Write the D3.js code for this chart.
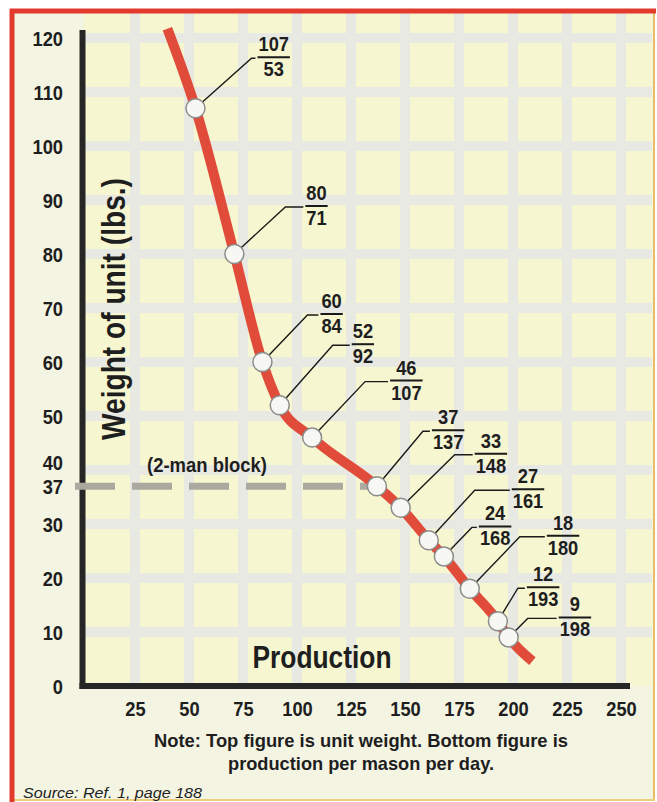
<!DOCTYPE html>
<html>
<head>
<meta charset="utf-8">
<title>Unit weight vs. production</title>
<style>
  body { margin: 0; background: #ffffff; }
  svg text { font-family: "Liberation Sans Narrow", "Arial Narrow", "Liberation Sans", sans-serif; fill: #1e1e1e; }
</style>
</head>
<body>
<script src="https://d3js.org/d3.v7.min.js"></script>
<script>

// unit weight (lbs.) and production per mason per day
var weights    = [107, 80, 60, 52, 46, 37, 33, 27, 24, 18, 12, 9];
var production = [53, 71, 84, 92, 107, 137, 148, 161, 168, 180, 193, 198];

// where the red curve runs past the first and last marked points
var curveStart = [40, 121.7];
var curveEnd   = [209, 4.6];

var xTicks = [25, 50, 75, 100, 125, 150, 175, 200, 225, 250];
var yTicks = [0, 10, 20, 30, 37, 40, 50, 60, 70, 80, 90, 100, 110, 120];
var gridY  = [10, 20, 30, 40, 50, 60, 70, 80, 90, 100, 110, 120];

var blockWeight = 37;
var blockLabel = "(2-man block)";

var yTitle = "Weight of unit (lbs.)";
var xTitle = "Production";
var noteLines = ["Note: Top figure is unit weight. Bottom figure is",
                 "production per mason per day."];
var sourceText = "Source: Ref. 1, page 188";

// leader layout per label: diagonal dx, dy (px) then horizontal run (px)
var leaders = [[56, -50, 4], [51, -47, 18], [45, -47, 11], [53, -60, 17],
               [53, -56, 23], [46, -55, 7], [54, -53, 18], [46, -50, 35],
               [28, -29, 5], [50, -52, 25], [20, -33, 7], [19, -19, 29]];

var W = 657, H = 802;
var squeeze = 0.87;   // the original type is a condensed face

var x = d3.scaleLinear().domain([0, 250]).range([81, 621]);
var y = d3.scaleLinear().domain([0, 120]).range([686, 38]);

var svg = d3.select('body').append('svg')
    .attr('width', W)
    .attr('height', H);

// frame and background
svg.append('rect')
    .attr('x', 12).attr('y', 11)
    .attr('width', 642).attr('height', 789)
    .attr('fill', '#f4f4e3');

svg.append('rect')
    .attr('x', x(0) + 3).attr('y', 13)
    .attr('width', 652 - x(0) - 3)
    .attr('height', y(0) - 13)
    .attr('fill', '#f6f6d0');

var grid = svg.append('g')
    .attr('stroke', '#e8e9e3')
    .attr('stroke-width', 10);

grid.selectAll('.vband')
    .data(xTicks)
    .enter().append('line')
    .attr('x1', function (d) { return x(d); })
    .attr('x2', function (d) { return x(d); })
    .attr('y1', 13)
    .attr('y2', y(0));

grid.selectAll('.hband')
    .data(gridY)
    .enter().append('line')
    .attr('x1', x(0))
    .attr('x2', 652)
    .attr('y1', function (d) { return y(d); })
    .attr('y2', function (d) { return y(d); });

svg.append('line')
    .attr('x1', 654).attr('x2', 654).attr('y1', 11).attr('y2', 800)
    .attr('stroke', '#ebbd63').attr('stroke-width', 2);
svg.append('line')
    .attr('x1', 12).attr('x2', 655).attr('y1', 800).attr('y2', 800)
    .attr('stroke', '#eccf7a').attr('stroke-width', 2);
svg.append('line')
    .attr('x1', 12).attr('x2', 12).attr('y1', 9).attr('y2', H)
    .attr('stroke', '#e23b2e').attr('stroke-width', 5);
svg.append('line')
    .attr('x1', 10).attr('x2', 656).attr('y1', 11).attr('y2', 11)
    .attr('stroke', '#e23b2e').attr('stroke-width', 5);

// axes lines
svg.append('line')
    .attr('x1', x(0) + 1.5).attr('x2', x(0) + 1.5)
    .attr('y1', 30).attr('y2', y(0) + 3)
    .attr('stroke', '#262626').attr('stroke-width', 6);
svg.append('line')
    .attr('x1', x(0) - 1.5).attr('x2', 630)
    .attr('y1', y(0)).attr('y2', y(0))
    .attr('stroke', '#262626').attr('stroke-width', 6);

// tick labels
var yAxis = d3.axisLeft(y).tickValues(yTicks).tickSize(0).tickPadding(0);
var gy = svg.append('g')
    .attr('transform', 'translate(63,0)')
    .call(yAxis);
gy.select('.domain').remove();
gy.selectAll('text')
    .style('font-size', '21px')
    .style('font-weight', 'bold')
    .attr('fill', '#1e1e1e')
    .attr('transform', 'scale(' + squeeze + ',1)')
    .attr('dy', function (d) { return d === 40 ? '-0.02em' : '0.34em'; });

var xAxis = d3.axisBottom(x).tickValues(xTicks).tickSize(0).tickPadding(0);
var gx = svg.append('g')
    .attr('transform', 'translate(0,701)')
    .call(xAxis);
gx.select('.domain').remove();
gx.selectAll('text')
    .style('font-size', '21px')
    .style('font-weight', 'bold')
    .attr('fill', '#1e1e1e')
    .attr('transform', 'scale(' + squeeze + ',1)')
    .attr('dy', '0.72em');

// axis titles
svg.append('text')
    .attr('transform', 'translate(125,' + 309 + ') rotate(-90)')
    .attr('text-anchor', 'middle')
    .attr('textLength', 262)
    .attr('lengthAdjust', 'spacingAndGlyphs')
    .style('font-size', '33px')
    .style('font-weight', 'bold')
    .text(yTitle);

svg.append('text')
    .attr('x', 322).attr('y', 668)
    .attr('text-anchor', 'middle')
    .attr('textLength', 139)
    .attr('lengthAdjust', 'spacingAndGlyphs')
    .style('font-size', '32px')
    .style('font-weight', 'bold')
    .text(xTitle);

// 2-man block reference
svg.append('line')
    .attr('x1', x(0) - 6).attr('x2', x(137))
    .attr('y1', y(blockWeight)).attr('y2', y(blockWeight))
    .attr('stroke', '#a9a99f')
    .attr('stroke-width', 7)
    .attr('stroke-dasharray', '40,17');

svg.append('text')
    .attr('x', 207).attr('y', 472)
    .attr('text-anchor', 'middle')
    .attr('textLength', 120)
    .attr('lengthAdjust', 'spacingAndGlyphs')
    .style('font-size', '21px')
    .style('font-weight', 'bold')
    .text(blockLabel);

// red curve
var points = production.map(function (p, i) { return [p, weights[i]]; });
var curvePts = [curveStart].concat(points).concat([curveEnd]);

var line = d3.line()
    .x(function (d) { return x(d[0]); })
    .y(function (d) { return y(d[1]); })
    .curve(d3.curveMonotoneX);

svg.append('path')
    .datum(curvePts)
    .attr('d', line)
    .attr('fill', 'none')
    .attr('stroke', '#e14b39')
    .attr('stroke-width', 10);

// leaders
var marks = svg.selectAll('.mark')
    .data(points)
    .enter().append('g')
    .attr('class', 'mark');

marks.append('polyline')
    .attr('points', function (d, i) {
        var cx = x(d[0]), cy = y(d[1]), L = leaders[i];
        return [[cx, cy], [cx + L[0], cy + L[1]], [cx + L[0] + L[2], cy + L[1]]].join(' ');
    })
    .attr('fill', 'none')
    .attr('stroke', '#1a1a1a')
    .attr('stroke-width', 1.4);

marks.append('circle')
    .attr('cx', function (d) { return x(d[0]); })
    .attr('cy', function (d) { return y(d[1]); })
    .attr('r', 9.5)
    .attr('fill', '#f7f7f3')
    .attr('stroke', '#8c8c8c')
    .attr('stroke-width', 1.5);

// fraction labels: weight over production
marks.each(function (d, i) {
    var L = leaders[i];
    var kx = x(d[0]) + L[0] + L[2] + 3;
    var ky = y(d[1]) + L[1] - 1;
    var g = d3.select(this).append('g');

    var top = g.append('text')
        .attr('y', ky - 6)
        .attr('text-anchor', 'middle')
        .attr('transform', 'scale(' + squeeze + ',1)')
        .style('font-size', '21px')
        .style('font-weight', 'bold')
        .text(d[1]);
    var bot = g.append('text')
        .attr('y', ky + 19)
        .attr('text-anchor', 'middle')
        .attr('transform', 'scale(' + squeeze + ',1)')
        .style('font-size', '21px')
        .style('font-weight', 'bold')
        .text(d[0]);
    var w = squeeze * Math.max(top.node().getComputedTextLength(), bot.node().getComputedTextLength());
    g.attr('transform', 'translate(' + (kx + w / 2) + ',0)');
    g.append('line')
        .attr('x1', -w / 2 - 1).attr('x2', w / 2 + 1)
        .attr('y1', ky).attr('y2', ky)
        .attr('stroke', '#1a1a1a')
        .attr('stroke-width', 2);
});

// note and source
svg.selectAll('.note')
    .data(noteLines)
    .enter().append('text')
    .attr('class', 'note')
    .attr('x', 361)
    .attr('y', function (d, i) { return 747 + i * 23; })
    .attr('text-anchor', 'middle')
    .attr('textLength', function (d, i) { return i === 0 ? 414 : 266; })
    .attr('lengthAdjust', 'spacingAndGlyphs')
    .style('font-size', '19px')
    .style('font-weight', 'bold')
    .text(function (d) { return d; });

svg.append('text')
    .attr('x', 23).attr('y', 798)
    .attr('textLength', 179)
    .attr('lengthAdjust', 'spacingAndGlyphs')
    .style('font-family', '"Liberation Sans", sans-serif')
    .style('font-size', '14px')
    .style('font-style', 'italic')
    .attr('fill', '#555555')
    .text(sourceText);

</script>
</body>
</html>
